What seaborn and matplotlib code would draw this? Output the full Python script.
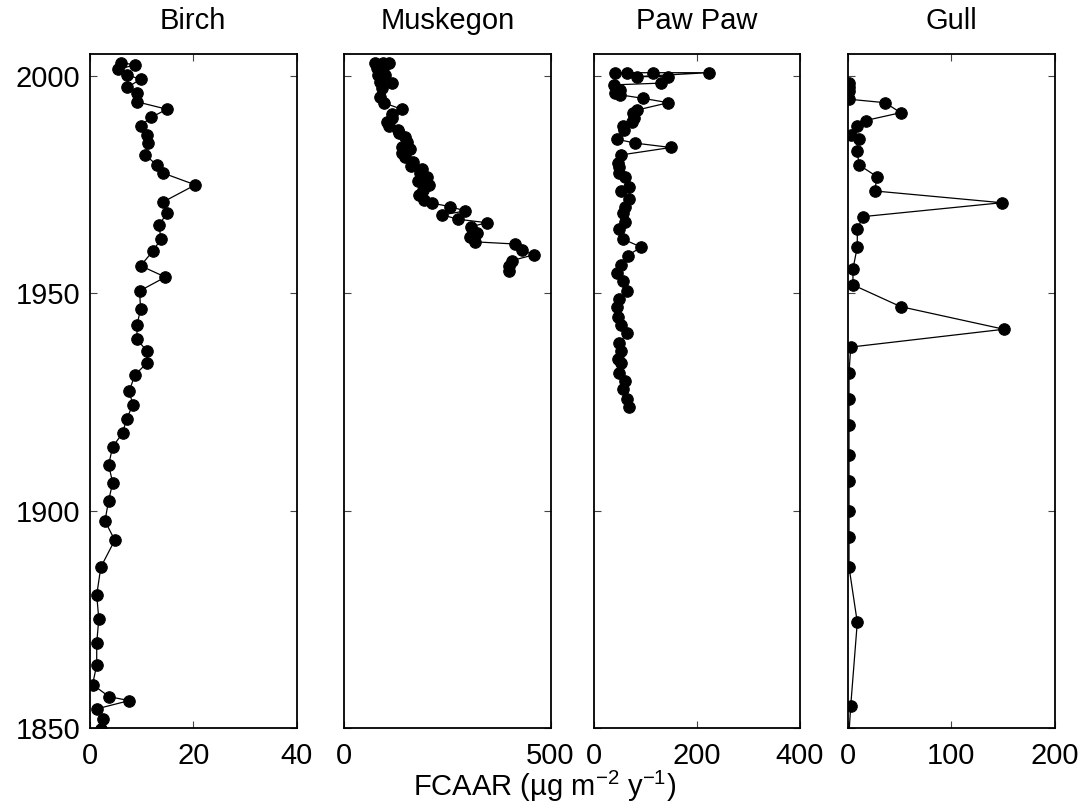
import matplotlib
matplotlib.use("Agg")
import matplotlib.pyplot as plt
import seaborn as sns
import pandas as pd

sns.set_theme(style="white")
plt.rcParams['font.family'] = ['Liberation Sans', 'DejaVu Sans']
plt.rcParams['mathtext.fontset'] = 'custom'
plt.rcParams['mathtext.rm'] = 'Liberation Sans'
plt.rcParams['mathtext.it'] = 'Liberation Sans:italic'
plt.rcParams['text.color'] = 'black'
plt.rcParams['axes.labelcolor'] = 'black'

# ---------------- data ----------------
birch_year = [2003.0, 2002.5, 2001.5, 2000.2, 1999.2, 1997.3, 1996.1, 1994.0, 1992.3, 1990.4,
              1988.5, 1986.4, 1984.5, 1981.8, 1979.5, 1977.6, 1974.9, 1971.0, 1968.4, 1965.7,
              1962.4, 1959.7, 1956.3, 1953.7, 1950.5, 1946.3, 1942.7, 1939.4, 1936.7, 1933.9,
              1931.2, 1927.5, 1924.3, 1921.1, 1917.8, 1914.7, 1910.5, 1906.4, 1902.3, 1897.6,
              1893.2, 1887.0, 1880.6, 1875.1, 1869.5, 1864.5, 1860.0, 1857.2, 1856.3, 1854.4,
              1852.0, 1849.7]
birch_val = [6.0, 8.7, 5.5, 7.1, 9.8, 7.2, 9.2, 9.1, 14.9, 11.8,
             9.8, 11.0, 11.3, 10.7, 12.9, 14.2, 20.4, 14.2, 14.9, 13.4,
             13.7, 12.2, 9.8, 14.6, 9.6, 9.8, 9.1, 9.1, 11.0, 11.0,
             8.7, 7.6, 8.3, 7.1, 6.3, 4.4, 3.6, 4.4, 3.6, 2.9,
             4.8, 2.1, 1.3, 1.7, 1.3, 1.3, 0.5, 3.7, 7.6, 1.3,
             2.5, 2.1]

musk_year = [2003.0, 2003.0, 2003.0, 2001.7, 2001.7, 2000.2, 2000.2, 1998.6, 1998.4, 1997.1,
             1995.2, 1993.7, 1992.3, 1991.2, 1990.2, 1989.4, 1988.4, 1987.5, 1986.8, 1985.8,
             1984.8, 1983.7, 1983.1, 1982.2, 1981.2, 1980.2, 1979.2, 1978.6, 1977.6, 1976.8,
             1975.8, 1974.9, 1973.7, 1972.6, 1971.4, 1970.7, 1969.9, 1968.9, 1968.0, 1967.0,
             1966.2, 1965.3, 1963.9, 1962.9, 1961.8, 1961.3, 1959.9, 1958.8, 1957.5, 1956.3,
             1955.0]
musk_val = [74, 95, 109, 79, 95, 83, 100, 87, 116, 92,
            87, 98, 140, 116, 117, 104, 108, 130, 132, 148,
            152, 140, 160, 140, 148, 166, 163, 190, 184, 201,
            179, 206, 192, 182, 194, 213, 257, 294, 238, 276,
            346, 308, 322, 304, 318, 415, 431, 459, 407, 400,
            399]

paw_year = [2000.7, 2000.7, 2000.7, 2000.7, 1999.8, 1999.8, 1998.3, 1997.9, 1996.7, 1996.0,
            1995.6, 1994.8, 1993.8, 1992.1, 1991.4, 1990.2, 1989.4, 1988.4, 1987.5, 1985.4,
            1984.5, 1983.5, 1981.8, 1979.9, 1979.0, 1977.6, 1976.6, 1974.5, 1973.5, 1971.6,
            1969.9, 1968.4, 1966.4, 1964.7, 1962.4, 1960.6, 1958.6, 1956.5, 1954.6, 1952.9,
            1950.6, 1948.7, 1946.9, 1944.6, 1942.7, 1940.8, 1938.5, 1936.6, 1934.8, 1934.0,
            1931.6, 1929.9, 1928.0, 1925.7, 1923.8]
paw_val = [42, 65, 116, 223, 84, 145, 130, 39, 52, 42,
           52, 96, 145, 84, 77, 79, 74, 58, 60, 45,
           81, 150, 54, 48, 50, 50, 61, 68, 54, 68,
           61, 58, 61, 50, 58, 92, 66, 53, 45, 57,
           65, 50, 45, 48, 54, 65, 50, 54, 48, 54,
           50, 61, 57, 65, 68]

gull_year = [1998.4, 1997.5, 1996.5, 1994.6, 1993.8, 1991.5, 1989.7, 1988.5, 1986.4, 1985.4,
             1982.7, 1979.5, 1976.8, 1973.5, 1970.8, 1967.6, 1964.7, 1960.6, 1955.6, 1951.9,
             1946.9, 1941.7, 1937.6, 1931.6, 1925.6, 1919.7, 1912.8, 1906.8, 1899.9, 1893.9,
             1887.0, 1874.3, 1855.0, 1845.0]
gull_val = [1, 1, 1, 1, 36, 51, 17, 9, 2.6, 10.6,
            9, 10.6, 28, 26, 149, 14.4, 9, 9, 4.8, 4.8,
            51, 151, 2.6, 1, 1, 1, 1, 1, 1, 1,
            1, 9, 2.6, 0]

sites = ["Birch", "Muskegon", "Paw Paw", "Gull"]
xlims = [(0, 40), (0, 500), (0, 400), (0, 200)]
xticks = [[0, 20, 40], [0, 500], [0, 200, 400], [0, 100, 200]]
yticks = [1850, 1900, 1950, 2000]
series = [(birch_val, birch_year), (musk_val, musk_year), (paw_val, paw_year), (gull_val, gull_year)]

# ---------------- figure ----------------
W, H = 1090, 810
fig = plt.figure(figsize=(W / 100, H / 100), dpi=100)
lefts = [90, 344, 593.5, 848]
aw, top, bot = 206.5, 54, 728
FS = 21

for i, (name, (vals, yrs)) in enumerate(zip(sites, series)):
    ax = fig.add_axes([lefts[i] / W, 1 - bot / H, aw / W, (bot - top) / H])
    df = pd.DataFrame({"val": vals, "year": yrs})
    sns.lineplot(data=df, x="val", y="year", sort=False, estimator=None, ax=ax,
                 color="black", linewidth=0.9, marker="o", markersize=8.3,
                 markeredgecolor="black", markerfacecolor="black")
    ax.set_xlim(*xlims[i])
    ax.set_ylim(1850, 2005)
    ax.set_xticks(xticks[i])
    ax.set_yticks(yticks)
    ax.set_xlabel("")
    ax.set_ylabel("")
    ax.tick_params(direction="in", length=5, width=0.8, color="#444444",
                   top=True, right=True, left=True, bottom=True,
                   labelsize=FS, labelcolor="black")
    ax.tick_params(axis="x", pad=10)
    ax.tick_params(axis="y", pad=7)
    if i > 0:
        ax.set_yticklabels([])
    for s in ax.spines.values():
        s.set_visible(True)
        s.set_color("black")
        s.set_linewidth(1.3)
    ax.set_title(name, fontsize=FS, pad=18, color="black")

fig.text(0.5, 0.008, "FCAAR (\u00b5g m$^{\\mathrm{-2}}$ y$^{\\mathrm{-1}}$)",
         ha="center", va="bottom", fontsize=FS, color="black")

fig.savefig("out.png", dpi=100)
